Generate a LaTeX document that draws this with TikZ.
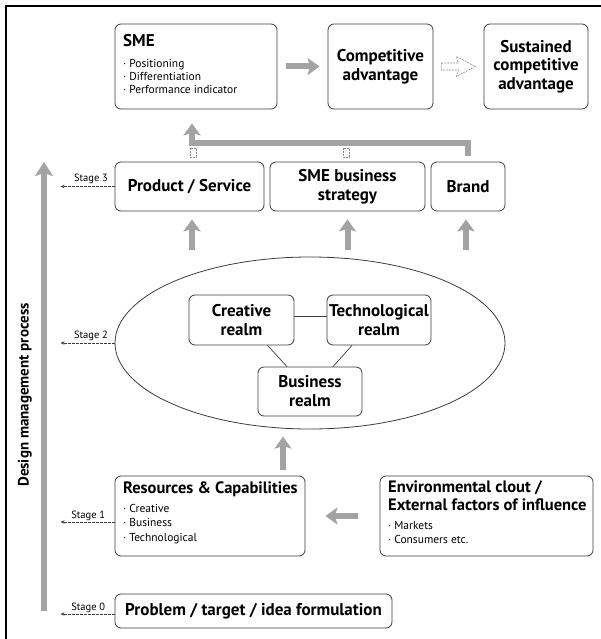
\documentclass[tikz,border=0pt]{standalone}
\usepackage{fontspec}
\setmainfont{PT Sans}
\usetikzlibrary{arrows.meta,shapes.geometric}
\definecolor{arrowgray}{HTML}{A3A3A3}
\definecolor{boxline}{HTML}{3C3C3C}
\definecolor{dashgray}{HTML}{8A8A8A}
\begin{document}
\begin{tikzpicture}[x=1pt,y=-1pt,
  box/.style={draw=boxline, line width=0.8pt, rounded corners=6pt, align=center,
    font=\bfseries\fontsize{17}{19}\selectfont, inner sep=0pt},
  titletext/.style={anchor=north west, align=left, inner sep=0pt,
    font=\bfseries\fontsize{17}{18}\selectfont},
  listtext/.style={anchor=north west, align=left, inner sep=0pt,
    font=\fontsize{11.5}{13}\selectfont},
  bigarrow/.style={draw=arrowgray, line width=6pt, -{Stealth[length=12pt,width=17pt,inset=2.5pt]}},
  stagearrow/.style={draw=boxline, line width=0.6pt, dash pattern=on 2.5pt off 1.5pt,
    -{Stealth[length=4pt,width=3.5pt]}},
  stagelabel/.style={font=\fontsize{10.5}{12}\selectfont, inner sep=1pt},
  link/.style={draw=boxline, line width=0.7pt},
  hollow/.style={draw=dashgray, line width=0.6pt, dash pattern=on 2pt off 1pt}]
\useasboundingbox (0,0) rectangle (601,639);
\draw[line width=2pt] (6,639) -- (6,6) -- (601,6);

% top row
\node[box, minimum width=162pt, minimum height=85pt] (sme) at (196,66.5) {};
\node[titletext] (smetitle) at (123,34) {SME};
\node[listtext] (smelist) at (123,59) {· Positioning\\ · Differentiation\\ · Performance indicator};
\node[box, minimum width=105pt, minimum height=85pt] (ca) at (380.5,66.5) {Competitive\\advantage};
\node[box, minimum width=104pt, minimum height=85pt, font=\bfseries\fontsize{17}{18.5}\selectfont] (sca) at (536,66.5) {Sustained\\competitive\\advantage};

\draw[bigarrow, shorten <=9pt, shorten >=8pt] (sme) -- (ca);
\begin{scope}[shift={(ca.east)}]
  \draw[hollow] (8,-3.5) -- (25,-3.5) -- (23,-10) -- (42,0) -- (23,10) -- (25,3.5) -- (8,3.5) -- cycle;
\end{scope}

% stage 3 row
\node[box, minimum width=149pt, minimum height=49pt] (prod) at (189.5,186.5) {Product / Service};
\node[box, minimum width=155pt, minimum height=49pt] (strat) at (347.5,186.5) {SME business\\strategy};
\node[box, minimum width=74pt, minimum height=49pt] (brand) at (468,186.5) {Brand};

% feedback arrow
\draw[bigarrow] ([yshift=6pt]brand.north) -- ([yshift=19pt]brand.north) -| ([xshift=-4pt,yshift=-14pt]sme.south);
\draw[hollow] (190,148) rectangle (196,157);
\draw[hollow] (343,148) rectangle (349,157);

% ellipse
\node[draw=boxline, line width=0.8pt, ellipse, minimum width=390pt, minimum height=172pt, inner sep=0pt] (ell) at (310,343) {};
\node[box, minimum width=105pt, minimum height=50pt] (creat) at (241.5,320) {Creative\\realm};
\node[box, minimum width=104pt, minimum height=50pt] (tech) at (379,320) {Technological\\realm};
\node[box, minimum width=104pt, minimum height=49pt] (bus) at (310,391.5) {Business\\realm};
\draw[link] ([yshift=4pt]creat.east) -- ([yshift=4pt]tech.west);
\draw[link] ([xshift=26pt]creat.south) -- ([xshift=-23pt]bus.north);
\draw[link] ([xshift=-27pt]tech.south) -- ([xshift=23pt]bus.north);

% arrows ellipse -> stage 3 row
\draw[bigarrow] ([xshift=2.5pt,yshift=-39pt]prod.south) -- ([xshift=2.5pt,yshift=-8pt]prod.south);
\draw[bigarrow] ([yshift=-39pt]strat.south) -- ([yshift=-8pt]strat.south);
\draw[bigarrow] ([xshift=-2pt,yshift=-39pt]brand.south) -- ([xshift=-2pt,yshift=-8pt]brand.south);

% stage 1 row
\node[box, minimum width=190pt, minimum height=80pt] (res) at (210,516) {};
\node[titletext, font=\bfseries\fontsize{16.5}{18}\selectfont] (restitle) at (123,482) {Resources \& Capabilities};
\node[listtext, font=\fontsize{11.5}{14.5}\selectfont] (reslist) at (123,504) {· Creative\\ · Business\\ · Technological};
\node[box, minimum width=213pt, minimum height=80pt] (env) at (486.5,516) {};
\node[titletext, font=\bfseries\fontsize{16.5}{18}\selectfont] (envtitle) at (388,481) {Environmental clout /\\External factors of influence};
\node[listtext, font=\fontsize{11.5}{14}\selectfont] (envlist) at (388,521) {· Markets\\ · Consumers etc.};
\draw[bigarrow, shorten <=22pt, shorten >=20pt] (env.west) -- (res.east);
\draw[bigarrow] ([xshift=73pt,yshift=6pt]res.north) -- ([xshift=73pt,yshift=39pt]res.north);

% stage 0
\node[box, minimum width=277pt, minimum height=34pt] (prob) at (253.5,611) {Problem / target / idea formulation};

% design management process
\coordinate (dmbot) at (44,611);
\coordinate (dmtop) at (44,162);
\draw[draw=arrowgray, line width=6.5pt, -{Stealth[length=14pt,width=18pt,inset=3pt]}] (dmbot) -- (dmtop);
\node[rotate=90, font=\bfseries\fontsize{15}{17}\selectfont, inner sep=0pt] (dmlabel) at (25,395) {Design management process};

% stage arrows
\draw[stagearrow] (prod.west) -- ++(-54,0) node[stagelabel, pos=0.1, anchor=south east, yshift=1pt] (s3) {Stage 3};
\draw[stagearrow] (ell.west) -- ++(-54,0) node[stagelabel, pos=0.1, anchor=south east, yshift=1pt] (s2) {Stage 2};
\draw[stagearrow] ([yshift=-6pt]res.west) -- ++(-54,0) node[stagelabel, pos=0.15, anchor=south east, yshift=0pt] (s1) {Stage 1};
\draw[stagearrow] ([yshift=-3pt]prob.west) -- ++(-54,0) node[stagelabel, pos=0.15, anchor=south east, yshift=0pt] (s0) {Stage 0};
\end{tikzpicture}
\end{document}
